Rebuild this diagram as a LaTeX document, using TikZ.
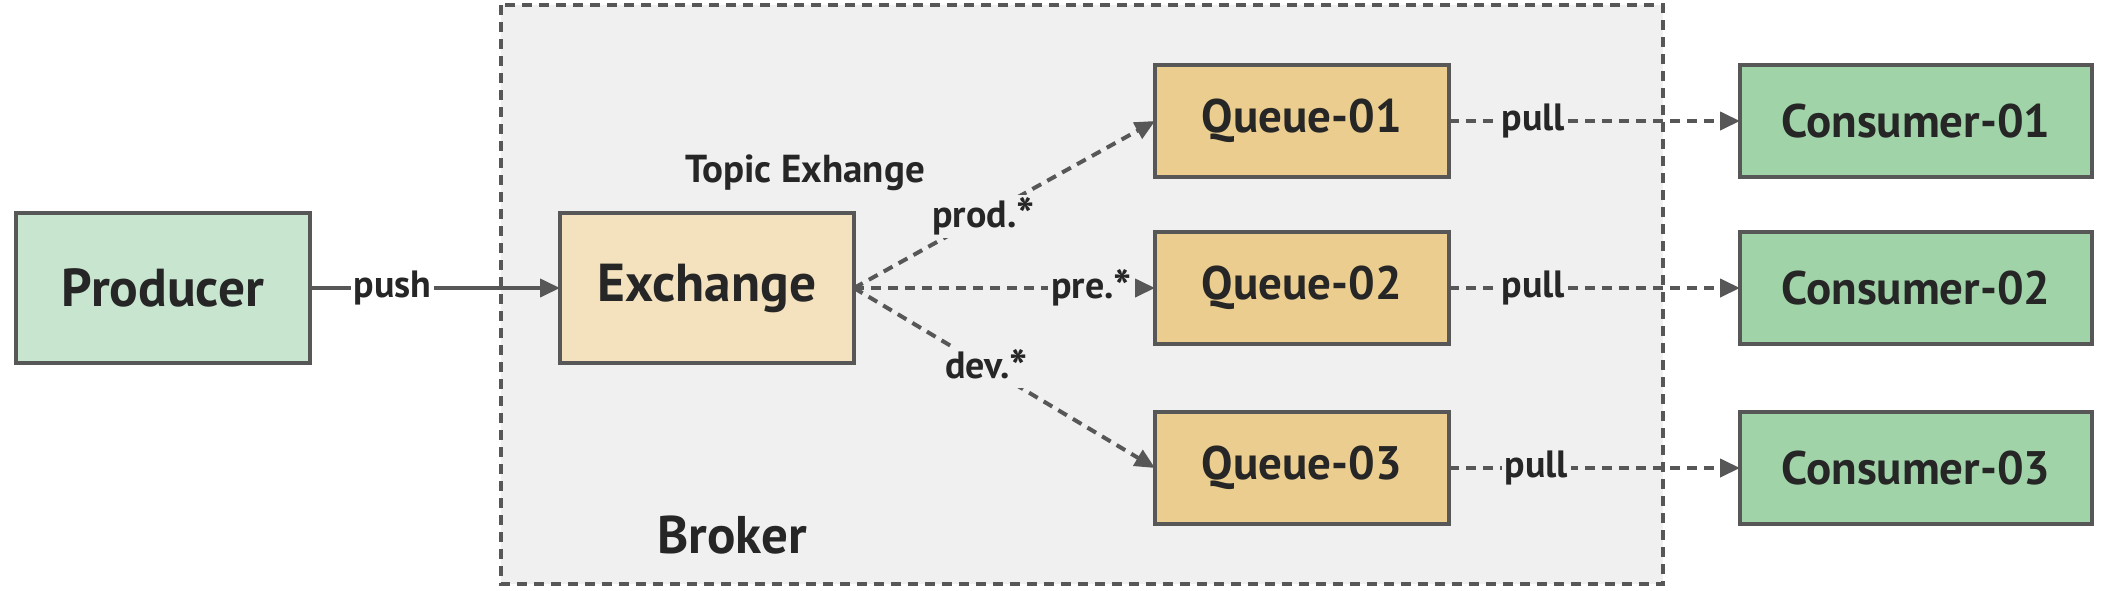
\documentclass[tikz,border=0pt]{standalone}
\usepackage{fontspec}
\setmainfont{PT Sans}
\usetikzlibrary{arrows.meta}
\definecolor{edgec}{HTML}{575757}
\definecolor{txtc}{HTML}{262626}
\definecolor{prodc}{HTML}{C8E6CF}
\definecolor{consc}{HTML}{A0D4A8}
\definecolor{exchc}{HTML}{F3E2BD}
\definecolor{queuec}{HTML}{EACD8F}
\definecolor{brokc}{HTML}{EFF0EF}
\newcommand{\bigast}{{\fontsize{24}{24}\selectfont\raisebox{-0.12em}{*}}}
\tikzset{
  box/.style={draw=edgec, line width=1.75pt, inner sep=0pt, outer sep=0pt, text=txtc, font=\bfseries\fontsize{23.5}{28}\selectfont},
  bigbox/.style={box, minimum width=147pt, minimum height=75pt, font=\bfseries\fontsize{26.7}{30}\selectfont},
  qbox/.style={box, fill=queuec, minimum width=147pt, minimum height=56pt},
  cbox/.style={box, fill=consc, minimum width=176pt, minimum height=56pt},
  conn/.style={draw=edgec, line width=2pt, -{Triangle[length=10pt,width=9pt]}},
  dconn/.style={conn, dash pattern=on 5pt off 3.5pt},
  lbl/.style={font=\bfseries\fontsize{19}{22}\selectfont, text=txtc, inner sep=1.5pt, fill=brokc},
}
\begin{document}
\begin{tikzpicture}[x=0.5pt,y=-0.5pt]
\useasboundingbox (0,0) rectangle (2114,590);
\fill[white] (0,0) rectangle (2114,590);
\draw[draw=edgec, fill=brokc, line width=2pt, dash pattern=on 5pt off 3.5pt] (501,5) rectangle (1663,584);
\node[bigbox, fill=prodc] (prod) at (163,288) {Producer};
\node[bigbox, fill=exchc] (exch) at (707,288) {Exchange};
\node[qbox] (q1) at (1302,121) {Queue-01};
\node[qbox] (q2) at (1302,288) {Queue-02};
\node[qbox] (q3) at (1302,468) {Queue-03};
\node[cbox] (c1) at (1916,121) {Consumer-01};
\node[cbox] (c2) at (1916,288) {Consumer-02};
\node[cbox] (c3) at (1916,468) {Consumer-03};
\node[font=\bfseries\fontsize{19.5}{23}\selectfont, text=txtc] (topic) at (805,173) {Topic Exhange};
\node[font=\bfseries\fontsize{26.5}{30}\selectfont, text=txtc] (broker) at (732,535) {Broker};
\draw[conn] (prod.east) -- node[lbl, fill=white, pos=0.33] {push} (exch.west);
\draw[dconn] (exch.east) -- node[lbl, pos=0.43] {prod.\bigast} (q1.west);
\draw[dconn] (exch.east) -- node[lbl, pos=0.79] {pre.\bigast} (q2.west);
\draw[dconn] (exch.east) -- node[lbl, pos=0.44] {dev.\bigast} (q3.west);
\draw[dconn] (q1.east) -- node[lbl, pos=0.29] {pull} (c1.west);
\draw[dconn] (q2.east) -- node[lbl, pos=0.29] {pull} (c2.west);
\draw[dconn] (q3.east) -- node[lbl, pos=0.3] {pull} (c3.west);
\end{tikzpicture}
\end{document}
